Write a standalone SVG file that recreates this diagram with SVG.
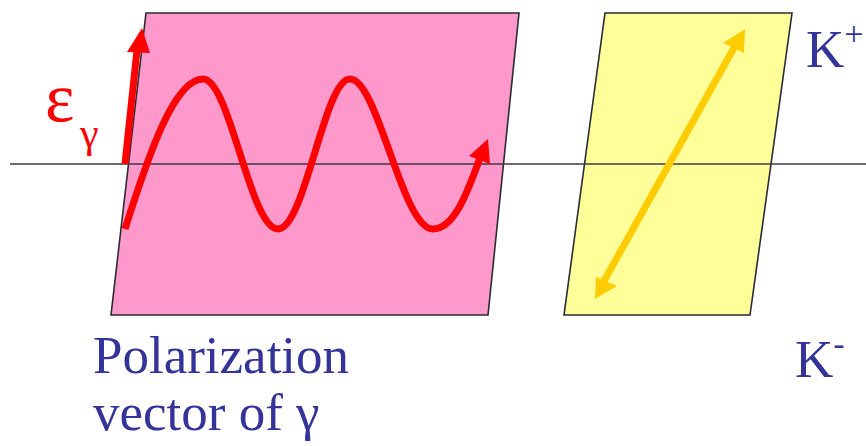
<svg xmlns="http://www.w3.org/2000/svg" width="866" height="446" viewBox="0 0 866 446">
<style>
.plane{stroke:#2b2b33;stroke-width:1.6;stroke-linejoin:miter}
.serif{font-family:"Liberation Serif","Times New Roman",serif}
.lbl{fill:#333399}
.red{fill:none;stroke:#ff0000;stroke-width:7;stroke-linecap:butt}
</style>
<rect width="866" height="446" fill="#ffffff"/>
<g id="photon-plane">
<polygon class="plane" points="146,13 519,13 488,315 111,315" fill="#ff99cc"/>
</g>
<g id="kaon-plane">
<polygon class="plane" points="605,13 792,13 750,315 564,315" fill="#ffff99"/>
</g>
<g id="connectors">
<line x1="10" y1="164" x2="866" y2="164" stroke="#3a3a44" stroke-width="1.6"/>
<g id="polarization-arrow">
<line x1="125" y1="164" x2="137" y2="50" stroke="#ff0000" stroke-width="7"/>
<polygon points="142,28 127,52 150,53" fill="#ff0000"/>
</g>
<g id="wave">
<path class="red" d="M125,229 C150,150 175,79 203,79 C230,79 250,229 278,229 C305,229 324,79 350,79 C378,79 402,229 433,229 C455,229 468,190 480,158"/>
<polygon points="488,139 469,156 490,164" fill="#ff0000"/>
</g>
<g id="kaon-axis">
<line x1="604" y1="281" x2="735" y2="46" stroke="#ffcc00" stroke-width="7"/>
<polygon points="745,29 723,43 744,53" fill="#ffcc00"/>
<polygon points="595,299 596,277 617,286" fill="#ffcc00"/>
</g>
</g>
<g id="labels">
<text class="serif" x="45" y="121" font-size="70" fill="#ff0000">ε</text>
<text class="serif" x="80" y="147" font-size="42" fill="#ff0000">γ</text>
<text class="serif lbl" x="93" y="373" font-size="53">Polarization</text>
<text class="serif lbl" x="93" y="430" font-size="53">vector of γ</text>
<text class="serif lbl" x="806" y="67" font-size="53">K<tspan font-size="34" dy="-22">+</tspan></text>
<text class="serif lbl" x="795" y="377" font-size="53">K<tspan font-size="34" dy="-22">-</tspan></text>
</g>
</svg>
